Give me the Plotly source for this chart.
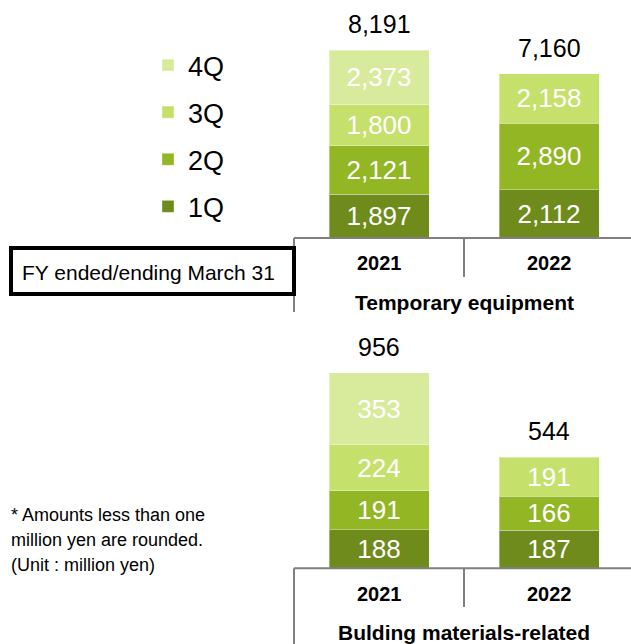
import plotly.graph_objects as go

W, H = 631, 644

# ---- data ----
years = ["2021", "2022"]
quarters = ["1Q", "2Q", "3Q", "4Q"]
temp_1q = [1897, 2112]
temp_2q = [2121, 2890]
temp_3q = [1800, 2158]
temp_4q = [2373, None]
bldg_1q = [188, 187]
bldg_2q = [191, 166]
bldg_3q = [224, 191]
bldg_4q = [353, None]
group_titles = ["Temporary equipment", "Bulding materials-related"]

colors = ["#6E8B1C", "#93B625", "#C6E06C", "#D8EB9D"]
FONT = "Liberation Sans, Arial, sans-serif"

def px_x(p):
    return p / W

def px_y(p):
    return (H - p) / H

temp = [temp_1q, temp_2q, temp_3q, temp_4q]
bldg = [bldg_1q, bldg_2q, bldg_3q, bldg_4q]

fig = go.Figure()
xs = [0, 1]
BAR_W = 100 / 170

for i, q in enumerate(quarters):
    fig.add_trace(go.Bar(
        x=xs, y=temp[i], name=q, xaxis="x", yaxis="y", width=BAR_W,
        marker=dict(color=colors[i], line=dict(color="rgba(255,255,255,0.35)", width=1)),
        texttemplate="%{y:,}", textposition="inside", insidetextanchor="middle",
        textangle=0, constraintext="none",
        textfont=dict(color="white", size=26, family=FONT),
        legendgroup=q, legendrank=len(quarters) - i, showlegend=True, hoverinfo="skip"))
for i, q in enumerate(quarters):
    fig.add_trace(go.Bar(
        x=xs, y=bldg[i], name=q, xaxis="x2", yaxis="y2", width=BAR_W,
        marker=dict(color=colors[i], line=dict(color="rgba(255,255,255,0.35)", width=1)),
        texttemplate="%{y:,}", textposition="inside", insidetextanchor="middle",
        textangle=0, constraintext="none",
        textfont=dict(color="white", size=26, family=FONT),
        legendgroup=q, legendrank=len(quarters) - i, showlegend=False, hoverinfo="skip"))

x_dom = [px_x(294), 1]
x_rng = [-0.5, (631 - 379) / 170]

top_base, bot_base = 238, 568.3
top_dom = [px_y(top_base), 1.0]
bot_dom = [px_y(bot_base), px_y(330)]
top_max = top_base / ((top_base - 50) / 8191)
bot_max = (bot_base - 330) / ((bot_base - 372.7) / 956)

axis_common = dict(showgrid=False, zeroline=False, showticklabels=False, ticks="", showline=False, fixedrange=True)
fig.update_layout(
    xaxis=dict(domain=x_dom, range=x_rng, anchor="y", **axis_common),
    yaxis=dict(domain=top_dom, range=[0, top_max], anchor="x", **axis_common),
    xaxis2=dict(domain=x_dom, range=x_rng, anchor="y2", **axis_common),
    yaxis2=dict(domain=bot_dom, range=[0, bot_max], anchor="x2", **axis_common),
)

ann = []
shapes = []
LINE = dict(color="#808080", width=2)

def totals(vals_list):
    out = []
    for j in range(len(years)):
        out.append(sum(v[j] for v in vals_list if v[j] is not None))
    return out

for (vals, xr, yr, base_px, lab_px, title_px, left_bottom_px, mid_bottom_px, title) in [
    (temp, "x", "y", top_base, 263, 302, 312, 277, group_titles[0]),
    (bldg, "x2", "y2", bot_base, 594, 632, 644, 607, group_titles[1]),
]:
    tots = totals(vals)
    for j, t in enumerate(tots):
        ann.append(dict(x=xs[j], y=t, xref=xr, yref=yr, text=f"{t:,}", showarrow=False,
                        yanchor="middle", yshift=26, font=dict(size=25, color="black", family=FONT)))
        ann.append(dict(x=xs[j], y=px_y(lab_px), xref=xr, yref="paper", text=years[j], showarrow=False,
                        yanchor="middle", font=dict(size=20, color="black", family=FONT, weight="bold")))
    ann.append(dict(x=0.5, y=px_y(title_px), xref=xr, yref="paper", text=title, showarrow=False,
                    yanchor="middle", font=dict(size=21, color="black", family=FONT, weight="bold")))
    shapes.append(dict(type="line", xref="paper", yref="paper", x0=px_x(294), x1=1,
                       y0=px_y(base_px), y1=px_y(base_px), line=LINE))
    shapes.append(dict(type="line", xref="paper", yref="paper", x0=px_x(294), x1=px_x(294),
                       y0=px_y(base_px), y1=px_y(left_bottom_px), line=LINE))
    shapes.append(dict(type="line", xref=xr, yref="paper", x0=0.5, x1=0.5,
                       y0=px_y(base_px), y1=px_y(mid_bottom_px), line=LINE))

# FY box
shapes.append(dict(type="rect", xref="paper", yref="paper", x0=px_x(11), x1=px_x(294),
                   y0=px_y(248), y1=px_y(294), line=dict(color="black", width=4), fillcolor="white"))
ann.append(dict(x=px_x(20), y=px_y(272), xref="paper", yref="paper", text="FY ended/ending March 31",
                showarrow=False, xanchor="left", yanchor="middle", font=dict(size=21, color="black", family=FONT)))

# footnote
for k, line in enumerate(["* Amounts less than one", "million yen are rounded.", "(Unit : million yen)"]):
    ann.append(dict(x=px_x(9), y=px_y(515 + 25 * k), xref="paper", yref="paper", text=line,
                    showarrow=False, xanchor="left", yanchor="middle",
                    font=dict(size=18, color="black", family=FONT)))

fig.update_layout(
    width=W, height=H, margin=dict(l=0, r=0, t=0, b=0),
    paper_bgcolor="white", plot_bgcolor="white",
    barmode="stack", annotations=ann, shapes=shapes,
    showlegend=True,
    legend=dict(x=px_x(148), y=px_y(41), xanchor="left", yanchor="top",
                traceorder="grouped", tracegroupgap=9,
                font=dict(size=27, color="black", family=FONT),
                bgcolor="rgba(0,0,0,0)", borderwidth=0),
    font=dict(family=FONT),
)

fig.write_html("out.html", config={"displayModeBar": False},
               post_script="document.body.style.margin='0';document.body.style.padding='0';")
